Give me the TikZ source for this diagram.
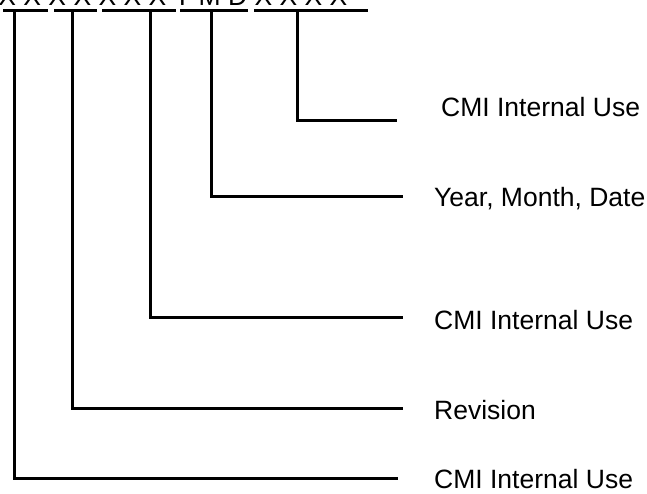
\documentclass[tikz,border=0pt]{standalone}
\usepackage{fontspec}
\setmainfont{Liberation Sans}
\usepackage{xcolor}
\usepackage{tikz}
\definecolor{pnblack}{RGB}{0,0,0}

\begin{document}
\begin{tikzpicture}[x=1pt,y=-1pt,
    field/.style={line width=3pt,pnblack},
    lbl/.style={anchor=base west,inner sep=0pt,pnblack,font=\fontsize{26.5}{30}\selectfont}]
                \useasboundingbox (0,0) rectangle (647,493);
                % part number and its fields
                \node[lbl] (pn) at (-1.8,5.5) {X X X X X X X Y M D X X X X};
                \draw[field] (3,10) -- (48,10);
                \draw[field] (54,10) -- (97,10);
                \draw[field] (102,10) -- (176,10);
                \draw[field] (180,10) -- (248,10);
                \draw[field] (254,10) -- (368,10);

                \coordinate (t1) at (14,10);
                \coordinate (t2) at (72,10);
                \coordinate (t3) at (150,10);
                \coordinate (t4) at (211,10);
                \coordinate (t5) at (297,10);

                \coordinate (e1) at (398,478);
                \coordinate (e2) at (403,408);
                \coordinate (e3) at (403,317);
                \coordinate (e4) at (403,196);
                \coordinate (e5) at (397,120);

                \node[lbl] (cmiA) at (434,488) {CMI Internal Use};
                \node[lbl] (rev) at (434,419) {Revision};
                \node[lbl] (cmiB) at (434,329) {CMI Internal Use};
                \node[lbl] (ymd) at (434,206) {Year, Month, Date};
                \node[lbl] (cmiC) at (441,116) {CMI Internal Use};

                \draw[field] (t1) |- (e1);
                \draw[field] (t2) |- (e2);
                \draw[field] (t3) |- (e3);
                \draw[field] (t4) |- (e4);
                \draw[field] (t5) |- (e5);
            \end{tikzpicture}
\end{document}
